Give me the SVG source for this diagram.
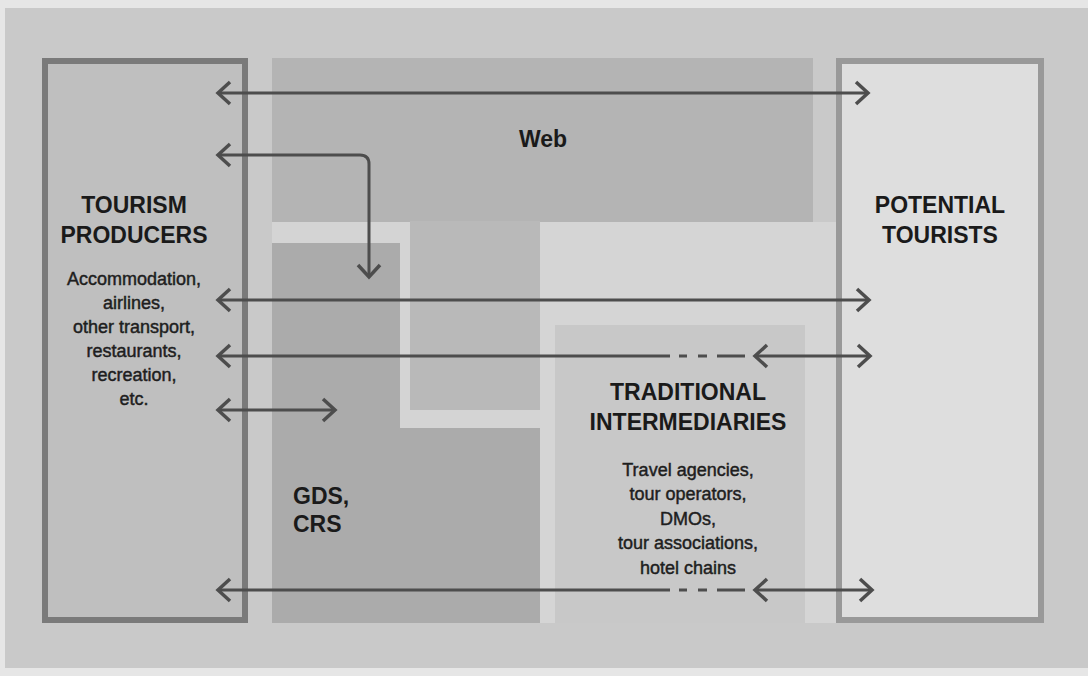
<svg xmlns="http://www.w3.org/2000/svg" width="1088" height="676" viewBox="0 0 1088 676">
  <style>
    .title { font-family: "Liberation Sans", Arial, sans-serif; font-weight: bold; font-size: 23px; fill: #1a1a1a; }
    .sub { font-family: "Liberation Sans", Arial, sans-serif; font-size: 18px; fill: #1e1e1e; stroke: #1e1e1e; stroke-width: 0.45px; }
    .conn { fill: none; stroke: #4d4d4d; stroke-width: 3; }
    .box { stroke-width: 6; }
  </style>
  <defs>
    <marker id="chev" viewBox="-15 -14 18 28" markerWidth="18" markerHeight="28" refX="0" refY="0" orient="auto-start-reverse" markerUnits="userSpaceOnUse" overflow="visible">
      <path d="M -12,-11 L 0,0 L -12,11" fill="none" stroke="#4d4d4d" stroke-width="3.5" stroke-linejoin="miter"/>
    </marker>
  </defs>

  <!-- page background -->
  <rect x="0" y="0" width="1088" height="676" fill="#e6e6e6"/>
  <rect x="5" y="8" width="1083" height="660" fill="#c9c9c9"/>

  <!-- Traditional intermediaries region -->
  <g id="traditional">
    <rect x="540" y="222" width="296" height="401" fill="#d5d5d5"/>
    <rect x="555" y="325" width="250" height="298" fill="#c8c8c8"/>
    <text class="title" text-anchor="middle" x="688" y="400">TRADITIONAL</text>
    <text class="title" text-anchor="middle" x="688" y="430">INTERMEDIARIES</text>
    <text class="sub" text-anchor="middle" x="688" y="476">Travel agencies,</text>
    <text class="sub" text-anchor="middle" x="688" y="500">tour operators,</text>
    <text class="sub" text-anchor="middle" x="688" y="525">DMOs,</text>
    <text class="sub" text-anchor="middle" x="688" y="549">tour associations,</text>
    <text class="sub" text-anchor="middle" x="688" y="574">hotel chains</text>
  </g>

  <!-- Web region -->
  <g id="web">
    <rect x="272" y="222" width="268" height="206" fill="#d4d4d4"/>
    <rect x="272" y="58" width="541" height="164" fill="#b4b4b4"/>
    <rect x="410" y="221" width="130" height="189" fill="#b9b9b9"/>
    <text class="title" text-anchor="middle" x="543" y="147">Web</text>
  </g>

  <!-- GDS / CRS region -->
  <g id="gds">
    <path d="M 272,243 H 400 V 428 H 540 V 623 H 272 Z" fill="#ababab"/>
    <text class="title" x="293" y="504">GDS,</text>
    <text class="title" x="293" y="532">CRS</text>
  </g>

  <!-- Tourism producers -->
  <g id="tourism-producers">
    <rect class="box" x="45" y="61" width="200" height="559" fill="#bfbfbf" stroke="#7a7a7a"/>
    <text class="title" text-anchor="middle" x="134" y="213">TOURISM</text>
    <text class="title" text-anchor="middle" x="134" y="243">PRODUCERS</text>
    <text class="sub" text-anchor="middle" x="134" y="285">Accommodation,</text>
    <text class="sub" text-anchor="middle" x="134" y="309">airlines,</text>
    <text class="sub" text-anchor="middle" x="134" y="333">other transport,</text>
    <text class="sub" text-anchor="middle" x="134" y="357">restaurants,</text>
    <text class="sub" text-anchor="middle" x="134" y="381">recreation,</text>
    <text class="sub" text-anchor="middle" x="134" y="405">etc.</text>
  </g>

  <!-- Potential tourists -->
  <g id="potential-tourists">
    <rect class="box" x="839" y="61" width="202" height="559" fill="#dedede" stroke="#999999"/>
    <text class="title" text-anchor="middle" x="940" y="213">POTENTIAL</text>
    <text class="title" text-anchor="middle" x="940" y="243">TOURISTS</text>
  </g>

  <!-- connectors -->
  <g id="connectors">
    <path class="conn" d="M 218,93 H 868" marker-start="url(#chev)" marker-end="url(#chev)"/>
    <path class="conn" d="M 218,155 H 360 Q 369,155 369,164 V 277" marker-start="url(#chev)" marker-end="url(#chev)"/>
    <path class="conn" d="M 218,300 H 869" marker-start="url(#chev)" marker-end="url(#chev)"/>
    <path class="conn" d="M 218,356 H 670" marker-start="url(#chev)"/>
    <path class="conn" d="M 679,356 H 687 M 698,356 H 707 M 717,356 H 745"/>
    <path class="conn" d="M 755,356 H 870" marker-start="url(#chev)" marker-end="url(#chev)"/>
    <path class="conn" d="M 218,410 H 335" stroke-width="4" marker-start="url(#chev)" marker-end="url(#chev)"/>
    <path class="conn" d="M 218,590 H 670" marker-start="url(#chev)"/>
    <path class="conn" d="M 679,590 H 687 M 698,590 H 707 M 717,590 H 745"/>
    <path class="conn" d="M 755,590 H 872" marker-start="url(#chev)" marker-end="url(#chev)"/>
  </g>
</svg>
